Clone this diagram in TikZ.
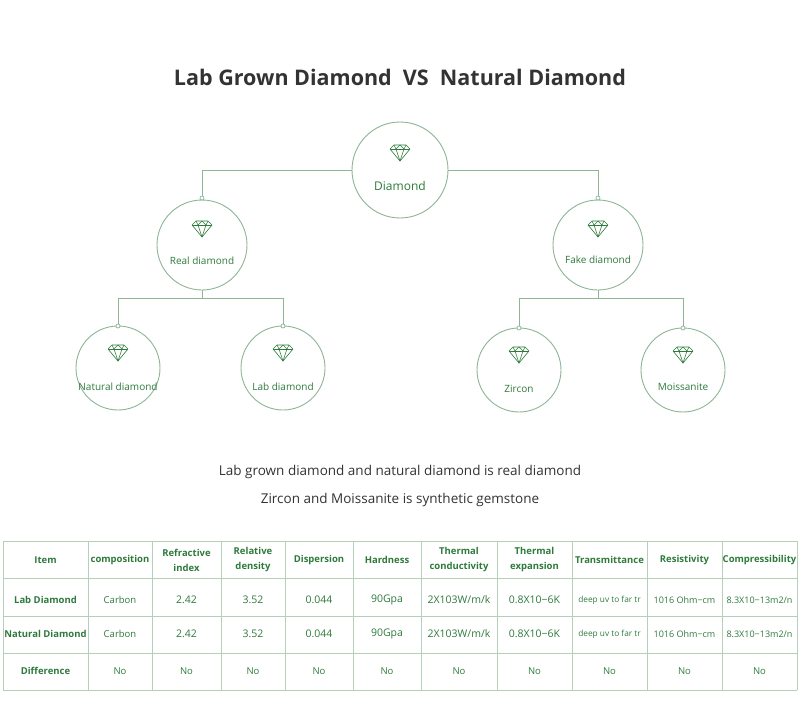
\documentclass[tikz,border=0pt]{standalone}
\usepackage{fontspec}
\setmainfont{Open Sans}
\definecolor{gtext}{HTML}{2E7A3C}
\definecolor{gline}{HTML}{8DB596}
\definecolor{tline}{HTML}{B5CFBB}
\definecolor{titlec}{HTML}{333333}
\tikzset{
 bub/.style={circle,draw=gline,line width=0.9pt,fill=white},
 lbl/.style={text=gtext,font=\fontsize{10}{12}\selectfont},
 conn/.style={draw=gline,line width=0.9pt},
 knob/.style={circle,draw=gline,fill=white,line width=0.7pt,inner sep=0pt,minimum size=4pt},
 hd/.style={text=gtext,font=\bfseries\fontsize{9.5}{15}\selectfont,align=center},
 cell/.style={text=gtext,font=\fontsize{10.5}{12}\selectfont},
}
\newcommand{\gem}[1]{%
 \begin{scope}[shift={#1},gtext,line width=0.6pt,line join=round]
  \draw (-10,-4) -- (-6,-8) -- (6,-8) -- (10,-4) -- (0,8) -- cycle;
  \draw (-10,-4) -- (10,-4);
  \draw (-6,-8) -- (-4,-4) -- (0,-8) -- (4,-4) -- (6,-8);
  \draw (-4,-4) -- (0,8) -- (4,-4);
 \end{scope}}
\begin{document}
\begin{tikzpicture}[x=1pt,y=-1pt]
\useasboundingbox (0,0) rectangle (800,706);
\node[text=titlec,font=\bfseries\fontsize{21.5}{26}\selectfont] (title) at (400,77) {Lab Grown Diamond\ \ VS\ \ Natural Diamond};
\coordinate (kr) at (202,198); \coordinate (kf) at (598,198);
\coordinate (jl) at (202,298); \coordinate (jr) at (598,298);
\coordinate (k1) at (118,326); \coordinate (k2) at (283,326);
\coordinate (k3) at (519,328); \coordinate (k4) at (683,328);
\path[conn] (400,170) -| (kr); \path[conn] (400,170) -| (kf);
\path[conn] (202,245) -- (jl) -| (k1); \path[conn] (jl) -| (k2);
\path[conn] (598,245) -- (jr) -| (k3); \path[conn] (jr) -| (k4);
\node[bub,minimum size=96pt] (dia) at (400,170) {};
\node[bub,minimum size=90pt] (real) at (202,245) {};
\node[bub,minimum size=90pt] (fake) at (598,245) {};
\node[bub,minimum size=84pt] (nat) at (118,368) {};
\node[bub,minimum size=84pt] (lab) at (283,368) {};
\node[bub,minimum size=84pt] (zir) at (519,370) {};
\node[bub,minimum size=84pt] (moi) at (683,370) {};
\foreach \k in {kr,kf,k1,k2,k3,k4} \node[knob] at (\k) {};
\gem{(400,153)} \node[lbl,font=\fontsize{12}{14}\selectfont] (t0) at (400,186) {Diamond};
\gem{(202,229)} \node[lbl] (t1) at (202,261) {Real diamond};
\gem{(598,229)} \node[lbl] (t2) at (598,260) {Fake diamond};
\gem{(118,353)} \node[lbl] (t3) at (118,387) {Natural diamond};
\gem{(283,353)} \node[lbl] (t4) at (283,387) {Lab diamond};
\gem{(519,355)} \node[lbl] (t5) at (519,389) {Zircon};
\gem{(683,355)} \node[lbl] (t6) at (683,387) {Moissanite};
\node[text=titlec,font=\fontsize{13.5}{16}\selectfont] (s1) at (400,472) {Lab grown diamond and natural diamond is real diamond};
\node[text=titlec,font=\fontsize{13.5}{16}\selectfont] (s2) at (400,500) {Zircon and Moissanite is synthetic gemstone};
\foreach \x in {3,88,152,221,285,353,421,497,572,647,722,797} \draw[tline,line width=0.9pt] (\x,541) -- (\x,690);
\foreach \y in {541,578,616,653,690} \draw[tline,line width=0.9pt] (3,\y) -- (797,\y);
\def\cx{{45.5,120,186.5,253,319,387,459,534.5,609.5,684.5,759.5}}
\foreach \t [count=\i from 0] in {Item,composition,Refractive\\index,Relative\\density,Dispersion,Hardness,Thermal\\conductivity,Thermal\\expansion,Transmittance,Resistivity,Compressibility}
  \node[hd] at (\cx[\i],560) {\t};
\foreach \r/\y in {0/600,1/634}{
 \node[hd] at (\cx[0],\y) {\ifnum\r=0 Lab Diamond\else Natural Diamond\fi};
 \node[cell,font=\fontsize{9.5}{12}\selectfont] at (\cx[1],\y) {Carbon};
 \foreach \t [count=\i from 2] in {2.42,3.52,0.044,90Gpa,2X103W/m/k,0.8X10−6K}
   \node[cell] at (\cx[\i],\y) {\t};
 \node[cell,font=\fontsize{8.3}{10}\selectfont] at (\cx[8],\y) {deep uv to far tr};
 \node[cell,font=\fontsize{9}{10}\selectfont] at (\cx[9],\y) {1016 Ohm−cm};
 \node[cell,font=\fontsize{9}{10}\selectfont] at (\cx[10],\y) {8.3X10−13m2/n};
}
\node[hd] at (\cx[0],671) {Difference};
\foreach \i in {1,...,10} \node[cell,font=\fontsize{9.5}{10}\selectfont] at (\cx[\i],671) {No};
\end{tikzpicture}
\end{document}
